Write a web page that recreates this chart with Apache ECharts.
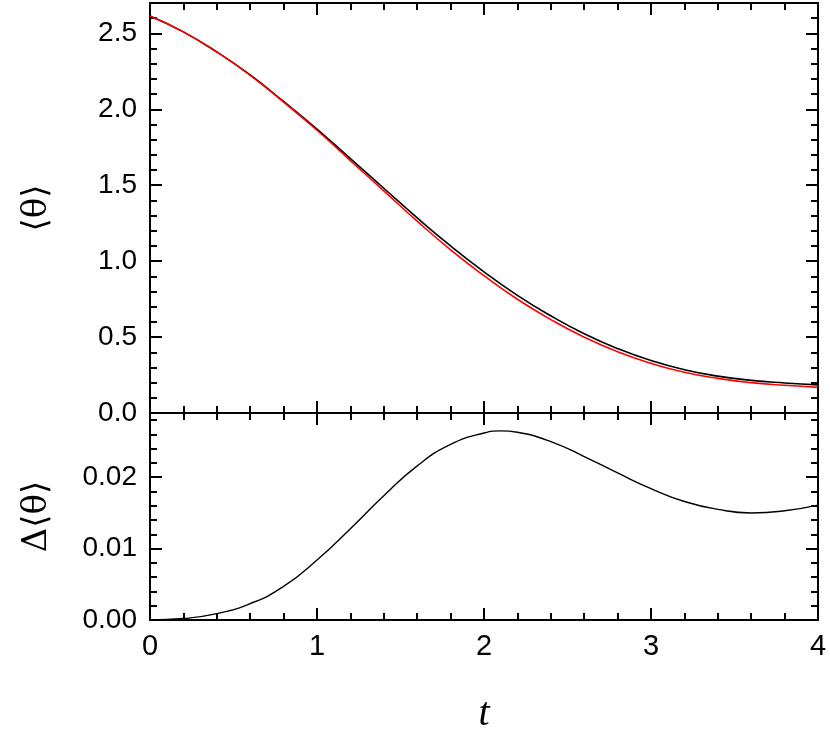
<!DOCTYPE html>
<html><head><meta charset="utf-8">
<script src="https://cdn.jsdelivr.net/npm/echarts@6/dist/echarts.min.js"></script>
<style>html,body{margin:0;padding:0;background:#fff}#c{width:830px;height:737px}</style>
</head><body><div id="c"></div>
<script>
// time grid for the upper panel
const t = [0,0.2,0.4,0.6,0.8,1.0,1.2,1.4,1.6,1.8,2.0,2.2,2.4,2.6,2.8,3.0,3.2,3.4,3.6,3.8,4.0];
// <theta> black curve
const thetaBlack = [2.615,2.510,2.378,2.226,2.052,1.870,1.675,1.480,1.285,1.100,0.930,0.775,0.640,0.522,0.424,0.345,0.285,0.243,0.215,0.198,0.185];
// <theta> red curve
const thetaRed = [2.615,2.510,2.377,2.224,2.048,1.862,1.662,1.463,1.263,1.075,0.904,0.749,0.615,0.499,0.403,0.327,0.268,0.228,0.200,0.183,0.169];
// time grid for the lower panel
const tDelta = [0,0.2,0.4,0.6,0.8,1.0,1.2,1.4,1.6,1.8,2.0,2.1,2.2,2.4,2.6,2.8,3.0,3.2,3.4,3.6,3.8,4.0];
// Delta<theta>
const deltaTheta = [0,0.0002,0.0009,0.0023,0.0047,0.0084,0.0128,0.0174,0.0216,0.0246,0.0262,0.0265,0.0263,0.0250,0.0229,0.0206,0.0184,0.0166,0.0155,0.0150,0.0153,0.0161];

const pairs = (xs, ys) => xs.map((x,i)=>[x, ys[i]]);
const FONT = 'Liberation Sans, Arial, sans-serif';
const SERIF = 'DejaVu Serif, Liberation Serif, serif';
const lineC = '#000';

function xAx(gi, pos, showLabel, extra) {
  return Object.assign({
    type:'value', gridIndex:gi, position:pos, min:0, max:4, interval:1,
    axisLine:{show:true, onZero:false, lineStyle:{color:lineC, width:2}},
    axisTick:{show:true, inside:true, length:12, lineStyle:{color:lineC, width:2}},
    minorTick:{show:true, splitNumber:5, length:7, lineStyle:{color:lineC, width:2}},
    axisLabel:{show:showLabel, color:'#000', fontSize:29, fontFamily:FONT, margin:12},
    splitLine:{show:false}
  }, extra||{});
}
function yAx(gi, pos, showLabel, min, max, interval, dec, extra) {
  return Object.assign({
    type:'value', gridIndex:gi, position:pos, min:min, max:max, interval:interval,
    axisLine:{show:true, onZero:false, lineStyle:{color:lineC, width:2}},
    axisTick:{show:true, inside:true, length:12, lineStyle:{color:lineC, width:2}},
    minorTick:{show:true, splitNumber:5, length:7, lineStyle:{color:lineC, width:2}},
    axisLabel:{show:showLabel, color:'#000', fontSize:28, fontFamily:FONT, margin:13,
      showMaxLabel:false,
      formatter: v => v.toFixed(dec)},
    splitLine:{show:false}
  }, extra||{});
}

const chart = echarts.init(document.getElementById('c'), null, {renderer:'canvas'});
chart.setOption({
  animation:false,
  backgroundColor:'#fff',
  grid:[
    {left:150, top:3, width:668, height:410},
    {left:150, top:413, width:668, height:207}
  ],
  xAxis:[
    xAx(0,'bottom',false),
    xAx(0,'top',false),
    xAx(1,'bottom',true,{name:'t', nameLocation:'middle', nameGap:74,
      nameTextStyle:{fontFamily:'Liberation Serif, DejaVu Serif, serif', fontStyle:'italic', fontSize:40, color:'#000'}}),
    xAx(1,'top',false)
  ],
  yAxis:[
    yAx(0,'left',true,0,2.7,0.5,1,{name:'\u27E8\u03B8\u27E9', nameLocation:'middle', nameGap:96, nameRotate:90,
      nameTextStyle:{fontFamily:SERIF, fontSize:34, color:'#000'}}),
    yAx(0,'right',false,0,2.7,0.5,1),
    yAx(1,'left',true,0,0.029,0.01,2,{name:'\u0394\u27E8\u03B8\u27E9', nameLocation:'middle', nameGap:96, nameRotate:90,
      nameTextStyle:{fontFamily:SERIF, fontSize:34, color:'#000'}}),
    yAx(1,'right',false,0,0.029,0.01,2)
  ],
  series:[
    {type:'line', xAxisIndex:0, yAxisIndex:0, data:pairs(t, thetaBlack), smooth:true, showSymbol:false,
      lineStyle:{color:'#000', width:1.6}, z:3},
    {type:'line', xAxisIndex:0, yAxisIndex:0, data:pairs(t, thetaRed), smooth:true, showSymbol:false,
      lineStyle:{color:'#ff0000', width:1.6}, z:4},
    {type:'line', xAxisIndex:2, yAxisIndex:2, data:pairs(tDelta, deltaTheta), smooth:true, showSymbol:false,
      lineStyle:{color:'#000', width:1.4}, z:3}
  ]
});
</script></body></html>
